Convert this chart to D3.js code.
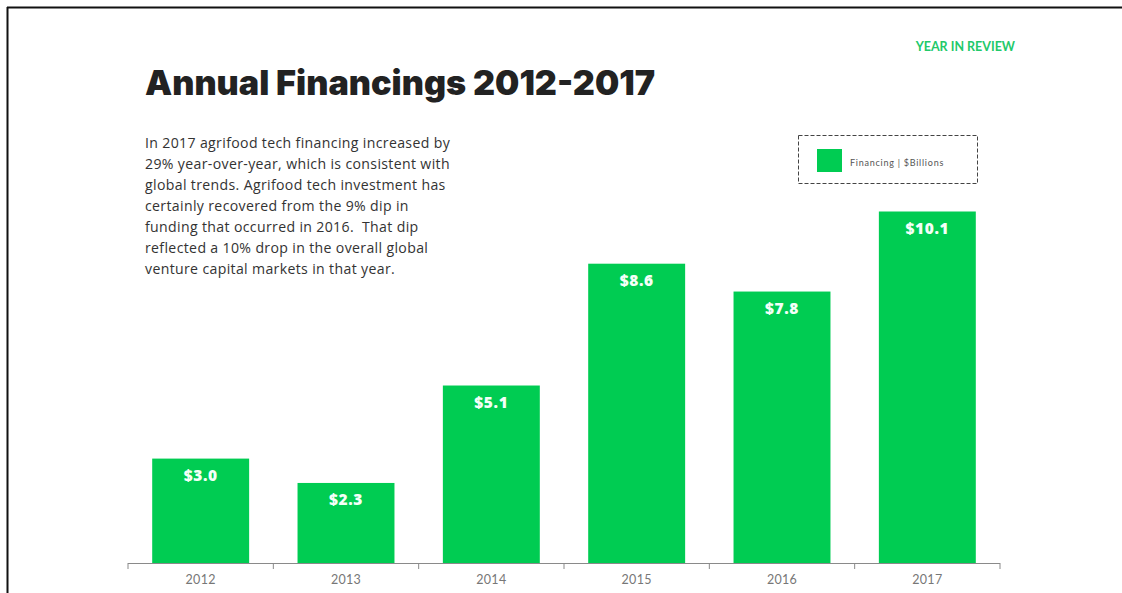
<!DOCTYPE html>
<html>
<head>
<meta charset="utf-8">
<script src="https://cdn.jsdelivr.net/npm/d3@7"></script>
<style>
  html, body { margin: 0; padding: 0; background: #fff; }
  svg { display: block; }
</style>
</head>
<body>
<svg id="chart" width="1122" height="593"></svg>
<script>
// Annual agrifood tech financing, $ billions
const years = ["2012", "2013", "2014", "2015", "2016", "2017"];
const financing = [3.0, 2.3, 5.1, 8.6, 7.8, 10.1];
const valueLabels = ["$3.0", "$2.3", "$5.1", "$8.6", "$7.8", "$10.1"];
const legendLabel = "Financing | $Billions";
const titleText = "Annual Financings 2012-2017";
const kicker = "YEAR IN REVIEW";
const paragraph = [
  "In 2017 agrifood tech financing increased by",
  "29% year-over-year, which is consistent with",
  "global trends. Agrifood tech investment has",
  "certainly recovered from the 9% dip in",
  "funding that occurred in 2016.  That dip",
  "reflected a 10% drop in the overall global",
  "venture capital markets in that year."
];

const green = "#00cc52";
const svg = d3.select("#chart");

// page frame (top and left rules)
svg.append("line").attr("x1", 7).attr("y1", 7.5).attr("x2", 1122).attr("y2", 7.5)
  .attr("stroke", "#111").attr("stroke-width", 2);
svg.append("line").attr("x1", 7.5).attr("y1", 7).attr("x2", 7.5).attr("y2", 593)
  .attr("stroke", "#111").attr("stroke-width", 2);

svg.append("text")
  .attr("x", 1015).attr("y", 51)
  .attr("text-anchor", "end")
  .attr("font-family", "Lato, 'Open Sans', sans-serif")
  .attr("font-weight", 700)
  .attr("font-size", 12.5)
  .attr("fill", "#22c96a")
  .text(kicker);

svg.append("text")
  .attr("x", 145).attr("y", 95)
  .attr("font-family", "Inter, Roboto, sans-serif")
  .attr("font-weight", 900)
  .attr("font-size", 34.2)
  .attr("fill", "#222")
  .text(titleText);

svg.append("g")
  .selectAll("text")
  .data(paragraph)
  .join("text")
  .attr("x", 145)
  .attr("y", (d, i) => 148 + i * 21)
  .attr("font-family", "'Open Sans', 'Noto Sans', sans-serif")
  .attr("font-size", 14.1)
  .attr("letter-spacing", 0.35)
  .attr("fill", "#333")
  .attr("xml:space", "preserve")
  .style("white-space", "pre")
  .text(d => d);

// scales
const x = d3.scaleBand().domain(years).range([128, 1000]).paddingInner(0.333).paddingOuter(0.1665);
const y = d3.scaleLinear().domain([0, 10.1]).range([563, 211.5]);

const rows = years.map((yr, i) => ({ year: yr, value: financing[i], label: valueLabels[i] }));

svg.append("g")
  .selectAll("rect")
  .data(rows)
  .join("rect")
  .attr("x", d => x(d.year))
  .attr("y", d => y(d.value))
  .attr("width", x.bandwidth())
  .attr("height", d => y(0) - y(d.value))
  .attr("fill", green);

svg.append("g")
  .selectAll("text")
  .data(rows)
  .join("text")
  .attr("x", d => x(d.year) + x.bandwidth() / 2)
  .attr("y", d => y(d.value) + 22)
  .attr("text-anchor", "middle")
  .attr("font-family", "'Open Sans', 'DejaVu Sans', sans-serif")
  .attr("font-weight", 800)
  .attr("font-size", 15.5)
  .attr("letter-spacing", 0.6)
  .attr("fill", "#f4fff8")
  .text(d => d.label);

// x axis with boundary ticks between bands
const axisG = svg.append("g").attr("transform", "translate(0,563)");
axisG.append("line").attr("x1", 128).attr("x2", 1000).attr("y1", 0.5).attr("y2", 0.5)
  .attr("stroke", "#8a8a8a").attr("stroke-width", 1);
const step = x.step();
const boundaries = d3.range(years.length + 1).map(i => 128 + i * step);
axisG.selectAll("line.tick")
  .data(boundaries)
  .join("line")
  .attr("class", "tick")
  .attr("x1", d => d).attr("x2", d => d)
  .attr("y1", 0).attr("y2", 6)
  .attr("stroke", "#8a8a8a");
const xAxis = d3.axisBottom(x).tickSize(0).tickPadding(0);
const axisLabels = svg.append("g").attr("transform", "translate(0,563)").call(xAxis);
axisLabels.select(".domain").remove();
axisLabels.selectAll("text")
  .attr("y", 21)
  .attr("dy", 0)
  .attr("font-family", "Lato, 'Open Sans', sans-serif")
  .attr("font-size", 12.5)
  .attr("letter-spacing", 0.3)
  .attr("fill", "#777");

// legend
const lg = svg.append("g");
lg.append("rect")
  .attr("x", 798.5).attr("y", 135.5).attr("width", 179).attr("height", 48)
  .attr("fill", "none").attr("stroke", "#444").attr("stroke-width", 1)
  .attr("stroke-dasharray", "4,2");
lg.append("rect")
  .attr("x", 817).attr("y", 149).attr("width", 25).attr("height", 23)
  .attr("fill", green);
lg.append("text")
  .attr("x", 850).attr("y", 166)
  .attr("font-family", "Lato, 'Open Sans', sans-serif")
  .attr("font-size", 9)
  .attr("letter-spacing", 0.75)
  .attr("fill", "#555")
  .text(legendLabel);
</script>
</body>
</html>
